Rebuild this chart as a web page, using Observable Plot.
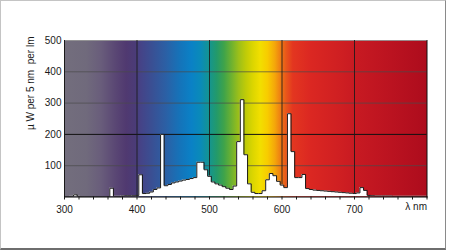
<!DOCTYPE html>
<html><head><meta charset="utf-8">
<script src="https://cdn.jsdelivr.net/npm/d3@7"></script>
<script src="https://cdn.jsdelivr.net/npm/@observablehq/plot@0.6"></script>
<style>
body{margin:0;background:#fff;}
#wrap{position:relative;width:450px;height:251px;}
#frame{position:absolute;left:0;top:0;width:444px;height:247px;border:1px solid #c4c4c4;border-right-color:#8a8a8a;border-bottom:2px solid #6e6e6e;pointer-events:none;}
svg text{white-space:pre;}
</style></head><body><div id="wrap"><div id="frame"></div></div>
<script>
// wavelength bin centres (nm), 5 nm bins
const wavelengths = [
  300,305,310,315,320,325,330,335,340,345,350,355,360,365,370,375,380,385,390,395,
  400,405,410,415,420,425,430,435,440,445,450,455,460,465,470,475,480,485,490,495,
  500,505,510,515,520,525,530,535,540,545,550,555,560,565,570,575,580,585,590,595,
  600,605,610,615,620,625,630,635,640,645,650,655,660,665,670,675,680,685,690,695,
  700,705,710,715,720,725,730,735,740,745,750,755,760,765,770,775,780,785,790,795,800
];
// µW per 5 nm per lm
const power = [
  0,1,2,7,2,1,1,1,1,1,1,1,1,28,2,2,3,4,4,4,
  5,71,11,12,16,24,29,200,36,40,45,48,51,54,56,59,62,111,111,87,
  66,48,42,38,33,28,24,35,177,311,135,42,15,11,11,20,55,75,68,50,
  38,30,266,145,62,62,72,27,24,22,21,20,19,18,17,16,15,14,13,12,
  11,13,30,21,5,4,3,3,3,3,3,2,2,2,2,2,2,2,2,2,2
];
const xTicks = [300, 400, 500, 600, 700];
const xMinorTicks = [300,320,340,360,380,400,420,440,460,480,500,520,540,560,580,600,620,640,660,680,700,720,740,760,780,800];
const yTicks = [100, 200, 300, 400, 500];
const yLightGrid = [100, 300, 400];
const yDarkGrid = [200];
const xGrid = [400, 500, 600, 700];
const xLabel = "λ nm";
const yLabel = "µ W per 5 nm  per lm";
// spectrum background colour stops (nm, colour)
const specStops = [
  [300,"#736e7d"],[330,"#706a7c"],[350,"#695d7b"],[370,"#5a4774"],[385,"#503970"],
  [397,"#4b3b77"],[405,"#454387"],[420,"#3a4f93"],[440,"#2b60a5"],[460,"#1474ba"],
  [475,"#0a81c6"],[488,"#0a8bb8"],[500,"#15958f"],[510,"#239a6a"],[520,"#3fa34a"],
  [530,"#6cb131"],[540,"#9bbf1a"],[550,"#bfcb08"],[560,"#dcd600"],[570,"#f2df00"],
  [580,"#f8cc00"],[590,"#f4a70a"],[598,"#ee7d13"],[605,"#e9591a"],[615,"#e33620"],
  [640,"#db2722"],[680,"#cf1f22"],[700,"#c81a22"],[750,"#bb1320"],[800,"#ad0c1d"]
];

const table = wavelengths.map((w, i) => ({x: w - 2.5, y: power[i]}));
table.push({x: wavelengths[wavelengths.length - 1] + 2.5, y: power[power.length - 1]});

const chart = Plot.plot({
  width: 450, height: 251,
  marginLeft: 64, marginRight: 23.5, marginTop: 40, marginBottom: 54.5,
  x: {domain: [300, 800]},
  y: {domain: [0, 500]},
  style: {fontFamily: "'Liberation Sans', Arial, sans-serif", fontSize: "10px", color: "#1a1a1a", background: "transparent", overflow: "visible"},
  marks: [
    Plot.frame({fill: "url(#spec)", stroke: "none"}),
    Plot.ruleY(yLightGrid, {stroke: "#4a4a4a", strokeOpacity: 0.7}),
    Plot.ruleY(yTicks.slice(-1), {stroke: "#8a8a8a", strokeOpacity: 0.8}),
    Plot.ruleY(yDarkGrid, {stroke: "#111"}),
    Plot.ruleX(xGrid, {stroke: "#1a1a1a", strokeOpacity: 0.85}),
    Plot.areaY(table, {x: "x", y: "y", curve: "step-after", fill: "white", clip: true}),
    Plot.lineY(table, {x: "x", y: "y", curve: "step-after", stroke: "#1a1a1a", strokeWidth: 1, clip: true}),
    Plot.frame({anchor: "left", stroke: "#1a1a1a"}),
    Plot.frame({anchor: "right", stroke: "#111"}),
    Plot.frame({anchor: "bottom", stroke: "#000"}),
    Plot.axisY({ticks: yTicks, tickSize: 0, tickPadding: 3, label: null}),
    Plot.axisX({ticks: xMinorTicks, tickSize: 3, tickFormat: () => "", label: null}),
    Plot.axisX({ticks: xTicks, tickSize: 0, tickPadding: 9, label: null}),
    Plot.text([xLabel], {frameAnchor: "bottom-right", text: d => d, textAnchor: "end", dy: 13}),
    Plot.text([yLabel], {frameAnchor: "top-left", text: d => d, rotate: -90, textAnchor: "end", dx: -38, dy: -4})
  ]
});

const xs = chart.scale("x");
const defs = d3.select(chart).insert("defs", ":first-child");
const grad = defs.append("linearGradient").attr("id", "spec")
  .attr("gradientUnits", "userSpaceOnUse")
  .attr("x1", xs.apply(300)).attr("x2", xs.apply(800)).attr("y1", 0).attr("y2", 0);
specStops.forEach(([nm, c]) => grad.append("stop").attr("offset", (nm - 300) / 500).attr("stop-color", c));

document.getElementById("wrap").prepend(chart);
</script>
</body></html>
